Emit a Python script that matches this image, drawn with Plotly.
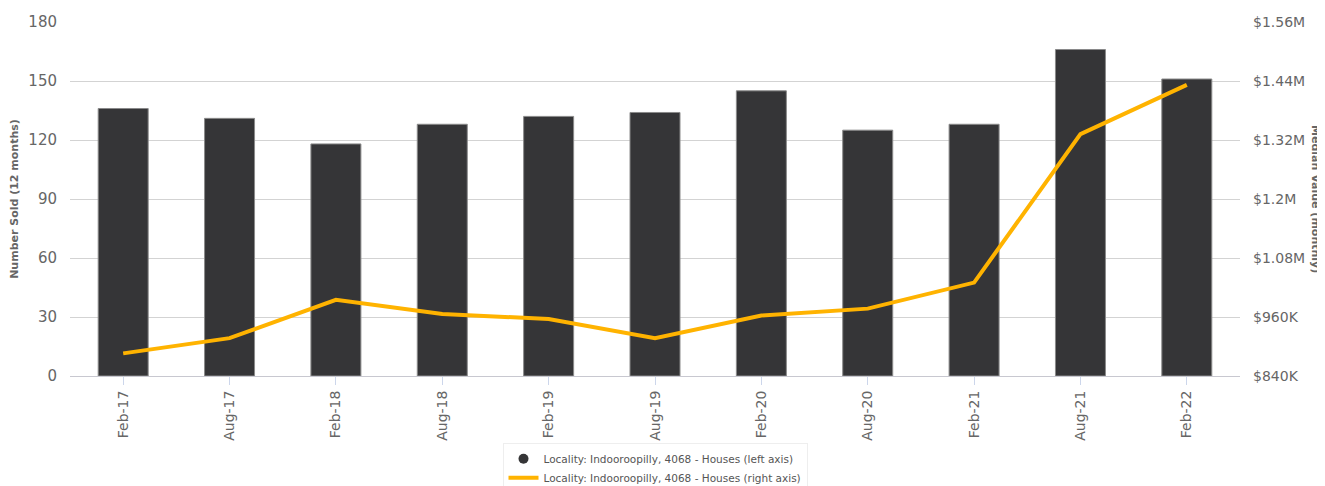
import plotly.graph_objects as go

periods = ["Feb-17", "Aug-17", "Feb-18", "Aug-18", "Feb-19", "Aug-19",
           "Feb-20", "Aug-20", "Feb-21", "Aug-21", "Feb-22"]
number_sold = [136, 131, 118, 128, 132, 134, 145, 125, 128, 166, 151]
median_value = [886000, 917000, 995000, 966000, 956000, 917000,
                963000, 977000, 1030000, 1332000, 1432000]

left_ticks = [0, 30, 60, 90, 120, 150, 180]
right_ticks = [840000, 960000, 1080000, 1200000, 1320000, 1440000, 1560000]
right_labels = ["$840K", "$960K", "$1.08M", "$1.2M", "$1.32M", "$1.44M", "$1.56M"]

name_left = "Locality: Indooroopilly, 4068 - Houses (left axis)"
name_right = "Locality: Indooroopilly, 4068 - Houses (right axis)"

bar_color = "#353537"
line_color = "#FFB300"
font = "DejaVu Sans"

fig = go.Figure()
fig.add_trace(go.Bar(
    x=periods, y=number_sold, name=name_left, showlegend=False,
    marker=dict(color=bar_color, line=dict(color="#8a8a8a", width=1)),
    width=0.47, yaxis="y",
))
fig.add_trace(go.Scatter(
    x=[None], y=[None], mode="markers", name=name_left,
    marker=dict(color=bar_color, size=10, symbol="circle"),
))
fig.add_trace(go.Scatter(
    x=periods, y=median_value, name=name_right, mode="lines",
    line=dict(color=line_color, width=4), yaxis="y2",
))

fig.update_layout(
    width=1317, height=478,
    margin=dict(l=62, r=85, t=14, b=110, autoexpand=False),
    paper_bgcolor="white", plot_bgcolor="white",
    font=dict(family=font, color="#666666"),
    xaxis=dict(
        tickangle=-90, tickfont=dict(size=14, color="#666666"),
        showgrid=False, showline=True, linecolor="#c8c8d0", linewidth=1,
        ticks="outside", ticklen=8, tickcolor="#ccd6eb",
        automargin=False,
    ),
    yaxis=dict(
        range=[0, 180], tickvals=left_ticks,
        tickfont=dict(size=15, color="#666666"),
        showgrid=True, gridcolor="#d3d3d3", gridwidth=1, zeroline=False,
        title=dict(text="<b>Number Sold (12 months)</b>",
                   font=dict(size=11, color="#666666"), standoff=10),
        ticklabelstandoff=12, automargin=False,
    ),
    yaxis2=dict(
        overlaying="y", side="right",
        range=[840000, 1560000], tickvals=right_ticks, ticktext=right_labels,
        tickfont=dict(size=14, color="#666666"),
        showgrid=True, gridcolor="#d3d3d3", gridwidth=1, zeroline=False,
        ticklabelstandoff=12, automargin=False,
    ),
    legend=dict(
        orientation="v", x=0.5, xanchor="center", y=-0.19, yanchor="top",
        font=dict(size=10.5, color="#555555"),
        bordercolor="#eeeeee", borderwidth=1, bgcolor="white",
        itemwidth=30,
    ),
    annotations=[dict(
        text="<b>Median Value (monthly)</b>", textangle=90,
        xref="paper", yref="paper", x=1.0, y=0.5, xanchor="center", yanchor="middle",
        xshift=76, showarrow=False, font=dict(size=11, color="#666666"),
    )],
    bargap=0.5,
)

fig.write_html("out.html")
